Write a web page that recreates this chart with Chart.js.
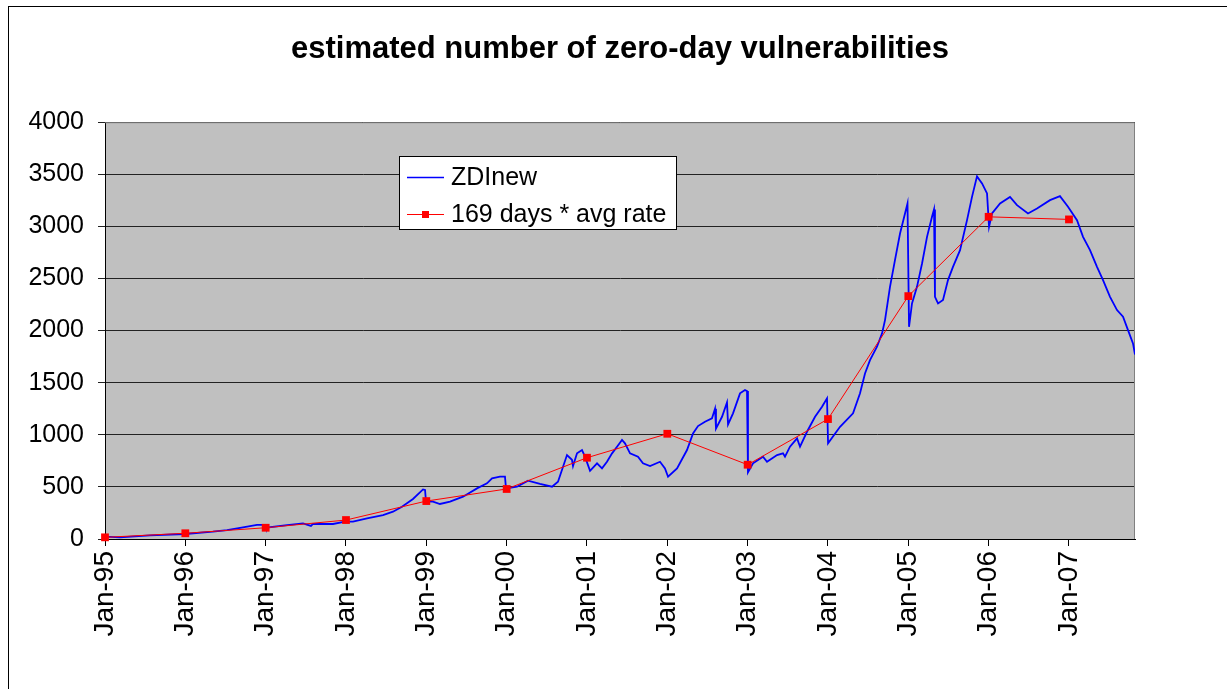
<!DOCTYPE html>
<html>
<head>
<meta charset="utf-8">
<script src="https://cdn.jsdelivr.net/npm/chart.js@4.4.0/dist/chart.umd.min.js"></script>
<style>
html,body{margin:0;padding:0;background:#fff;}
#wrap{position:relative;width:1227px;height:689px;}
canvas{display:block;}
</style>
</head>
<body>
<div id="wrap"><canvas id="c" width="1227" height="689"></canvas></div>
<script>
const chartTitle = 'estimated number of zero-day vulnerabilities';
const seriesNames = ['ZDInew', '169 days * avg rate'];

const tickYears = [1995, 1996, 1997, 1998, 1999, 2000, 2001, 2002, 2003, 2004, 2005, 2006, 2007];
const tickLabels = ['Jan-95', 'Jan-96', 'Jan-97', 'Jan-98', 'Jan-99', 'Jan-00', 'Jan-01', 'Jan-02', 'Jan-03', 'Jan-04', 'Jan-05', 'Jan-06', 'Jan-07'];
const yTickValues = [0, 500, 1000, 1500, 2000, 2500, 3000, 3500, 4000];
const yTickLabels = ['0', '500', '1000', '1500', '2000', '2500', '3000', '3500', '4000'];

const blueYears = [
  1995.000, 1995.187, 1995.560, 1995.996, 1996.344, 1996.519, 1996.718, 1996.892, 1996.992, 1997.004,
  1997.266, 1997.465, 1997.564, 1997.589, 1997.838, 1997.988, 1998.087, 1998.262, 1998.461, 1998.585,
  1998.697, 1998.834, 1998.959, 1998.984, 1998.996, 1999.083, 1999.170, 1999.295, 1999.457, 1999.631,
  1999.755, 1999.818, 1999.917, 1999.979, 1999.992, 2000.129, 2000.266, 2000.415, 2000.565, 2000.639,
  2000.751, 2000.813, 2000.826, 2000.876, 2000.938, 2000.975, 2001.038, 2001.125, 2001.187, 2001.249,
  2001.312, 2001.374, 2001.436, 2001.473, 2001.536, 2001.635, 2001.697, 2001.785, 2001.909, 2001.971,
  2002.009, 2002.121, 2002.245, 2002.320, 2002.382, 2002.469, 2002.556, 2002.594, 2002.606, 2002.681,
  2002.743, 2002.756, 2002.818, 2002.905, 2002.967, 2002.992, 2003.004, 2003.067, 2003.191, 2003.241,
  2003.366, 2003.440, 2003.465, 2003.527, 2003.615, 2003.652, 2003.739, 2003.839, 2003.926, 2003.988,
  2004.001, 2004.150, 2004.312, 2004.399, 2004.461, 2004.523, 2004.610, 2004.673, 2004.710, 2004.772,
  2004.834, 2004.897, 2004.959, 2004.990, 2005.009, 2005.046, 2005.108, 2005.171, 2005.233, 2005.295,
  2005.320, 2005.332, 2005.370, 2005.432, 2005.494, 2005.556, 2005.644, 2005.731, 2005.793, 2005.855,
  2005.918, 2005.980, 2006.005, 2006.042, 2006.142, 2006.266, 2006.353, 2006.490, 2006.602, 2006.764,
  2006.888, 2006.988, 2007.100, 2007.175, 2007.262, 2007.349, 2007.424, 2007.511, 2007.598, 2007.673,
  2007.735, 2007.797, 2007.822
];
const blueValues = [
  22, 16, 35, 48, 70, 86, 112, 135, 135, 108,
  134, 150, 125, 145, 144, 166, 166, 198, 230, 262,
  310, 384, 476, 470, 360, 358, 336, 358, 406, 486,
  534, 582, 598, 598, 486, 502, 559, 528, 502, 550,
  806, 760, 700, 822, 854, 790, 655, 726, 678, 741,
  822, 886, 950, 918, 822, 790, 726, 700, 741, 678,
  598, 678, 854, 1013, 1084, 1125, 1158, 1250, 1060, 1173,
  1310, 1100, 1206, 1398, 1429, 1420, 640, 726, 790, 741,
  806, 822, 790, 886, 966, 886, 1029, 1173, 1269, 1350,
  918, 1077, 1206, 1398, 1589, 1717, 1845, 1973, 2101, 2420,
  2676, 2932, 3124, 3220, 2036, 2261, 2420, 2644, 2900, 3092,
  3162, 2324, 2261, 2293, 2485, 2612, 2772, 3060, 3283, 3480,
  3412, 3316, 2996, 3124, 3220, 3283, 3204, 3124, 3172, 3252,
  3290, 3188, 3060, 2900, 2772, 2612, 2485, 2324, 2197, 2133,
  2005, 1877, 1770
];

const redYears = [1995, 1996, 1997, 1998, 1999, 2000, 2001, 2002, 2003, 2004, 2005, 2006, 2007];
const redValues = [16, 55, 108, 182, 364, 480, 780, 1010, 713, 1151, 2331, 3092, 3067];

const FONT = "'Liberation Sans', Arial, Helvetica, sans-serif";

const framePlugin = {
  id: 'frame',
  beforeDraw(chart) {
    const ctx = chart.ctx, a = chart.chartArea;
    ctx.save();
    ctx.fillStyle = '#ffffff';
    ctx.fillRect(0, 0, chart.width, chart.height);
    ctx.strokeStyle = '#000000';
    ctx.lineWidth = 1;
    ctx.strokeRect(8.5, 6.5, chart.width + 20, chart.height + 20);
    ctx.fillStyle = '#C0C0C0';
    ctx.fillRect(a.left, a.top, a.right - a.left, a.bottom - a.top);
    ctx.restore();
  },
  beforeDatasetsDraw(chart) {
    const ctx = chart.ctx, a = chart.chartArea;
    ctx.save();
    ctx.strokeStyle = '#808080';
    ctx.lineWidth = 1;
    ctx.beginPath();
    ctx.moveTo(a.left, a.top + 0.5);
    ctx.lineTo(a.right - 0.5, a.top + 0.5);
    ctx.lineTo(a.right - 0.5, a.bottom);
    ctx.stroke();
    ctx.restore();
  }
};

const boxLegendPlugin = {
  id: 'boxLegend',
  afterDraw(chart) {
    const ctx = chart.ctx;
    const x0 = 399.5, y0 = 156.5, w = 277, h = 73;
    ctx.save();
    ctx.fillStyle = '#ffffff';
    ctx.fillRect(x0, y0, w, h);
    ctx.strokeStyle = '#000000';
    ctx.lineWidth = 1;
    ctx.strokeRect(x0, y0, w, h);
    const rows = [chart.data.datasets[1], chart.data.datasets[0]];
    rows.forEach((ds, i) => {
      const y = 177.5 + i * 37;
      ctx.strokeStyle = ds.borderColor;
      ctx.lineWidth = ds.pointRadius > 0 ? 1 : 1.5;
      ctx.beginPath();
      ctx.moveTo(407, y);
      ctx.lineTo(444, y);
      ctx.stroke();
      if (ds.pointRadius > 0) {
        ctx.fillStyle = ds.backgroundColor;
        ctx.fillRect(422, y - 3.5, 7, 7);
      }
      ctx.fillStyle = '#000000';
      ctx.font = '25px ' + FONT;
      ctx.textBaseline = 'middle';
      ctx.textAlign = 'left';
      ctx.fillText(ds.label, 451, y + 1);
    });
    ctx.restore();
  }
};

new Chart(document.getElementById('c'), {
  type: 'line',
  data: {
    datasets: [
      {
        label: seriesNames[1],
        data: redYears.map((x, i) => ({x: x, y: redValues[i]})),
        borderColor: '#FF0000',
        backgroundColor: '#FF0000',
        borderWidth: 1,
        pointStyle: 'rect',
        pointRadius: 5.5,
        pointBorderWidth: 0,
        pointBackgroundColor: '#FF0000',
        clip: false,
        order: 0
      },
      {
        label: seriesNames[0],
        data: blueYears.map((x, i) => ({x: x, y: blueValues[i]})),
        borderColor: '#0000FF',
        backgroundColor: '#0000FF',
        borderWidth: 1.8,
        pointRadius: 0,
        tension: 0,
        order: 1
      }
    ]
  },
  options: {
    responsive: false,
    animation: false,
    devicePixelRatio: 1,
    layout: {padding: {left: 0, right: 92, top: 0, bottom: 0}},
    plugins: {
      legend: {display: false},
      tooltip: {enabled: false},
      title: {
        display: true,
        fullSize: false,
        text: chartTitle,
        color: '#000000',
        font: {family: FONT, size: 31, weight: 'bold'},
        padding: {top: 31, bottom: 54}
      }
    },
    scales: {
      x: {
        type: 'linear',
        min: 1995,
        max: 2007.822,
        afterBuildTicks: s => { s.ticks = tickYears.map(v => ({value: v})); },
        afterFit: s => { s.height = 150; },
        grid: {drawOnChartArea: false, drawTicks: true, tickLength: 7, color: '#000000'},
        border: {color: '#000000', width: 1},
        ticks: {
          callback: (v, i) => tickLabels[i],
          color: '#000000',
          font: {family: FONT, size: 28},
          maxRotation: 90,
          minRotation: 90,
          padding: 5,
          autoSkip: false
        }
      },
      y: {
        min: 0,
        max: 4000,
        afterBuildTicks: s => { s.ticks = yTickValues.map(v => ({value: v})); },
        afterFit: s => { s.width = 105; },
        grid: {color: '#222222', lineWidth: 1, tickLength: 7},
        border: {color: '#000000', width: 1},
        ticks: {
          callback: (v, i) => yTickLabels[i],
          color: '#000000',
          font: {family: FONT, size: 25},
          padding: 14
        }
      }
    }
  },
  plugins: [framePlugin, boxLegendPlugin]
});
</script>
</body>
</html>
